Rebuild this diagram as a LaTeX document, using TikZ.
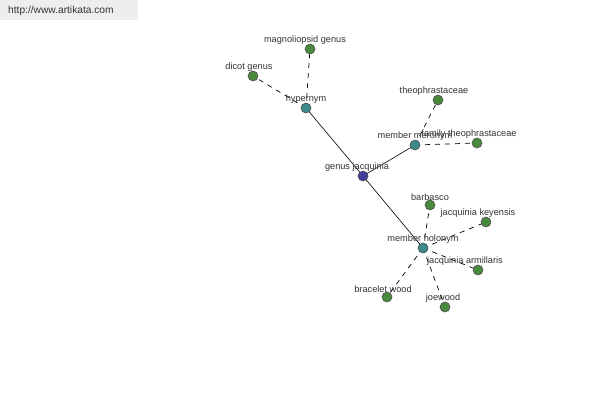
\documentclass[tikz,border=0pt]{standalone}
\usepackage{fontspec}
\setmainfont{Liberation Sans}
\usetikzlibrary{backgrounds}
\definecolor{hub}{HTML}{3F3F9A}
\definecolor{rel}{HTML}{3C8A8A}
\definecolor{leaf}{HTML}{4A8A3C}
\definecolor{txt}{HTML}{333333}
\definecolor{band}{HTML}{EEEEEE}

\tikzset{
  every label/.style={font=\fontsize{9.2}{10}\selectfont,text=txt,inner sep=1pt,yshift=-2pt},
  wn/.style={circle,draw=black!70,line width=0.6pt,inner sep=0pt,minimum size=10pt},
  hubnode/.style={wn,fill=hub},
  relnode/.style={wn,fill=rel},
  leafnode/.style={wn,fill=leaf},
  dashlink/.style={draw=black,line width=0.7pt,dash pattern=on 5pt off 5pt}
}

\begin{document}
\begin{tikzpicture}[x=1pt,y=-1pt]
  \useasboundingbox (0,0) rectangle (600,400);
  \node[fill=band,minimum width=138pt,minimum height=20pt,anchor=north west,inner sep=0pt] (site) at (0,0) {};
  \node[anchor=west,font=\fontsize{10.2}{11}\selectfont,text=txt,inner sep=0pt] (url) at (8,10.5) {http://www.artikata.com};
  % centre and relations
  \node[hubnode,label={[xshift=-6pt]above:genus jacquinia}] (gj) at (363,176) {};
  \node[relnode,label={above:hypernym}] (hyp) at (306,108) {};
  \node[relnode,label={above:member meronym}] (mer) at (415,145) {};
  \node[relnode,label={above:member holonym}] (hol) at (423,248) {};
  % leaves
  \node[leafnode,label={[xshift=-5pt]above:magnoliopsid genus}] (mag) at (310,49) {};
  \node[leafnode,label={[xshift=-4pt]above:dicot genus}] (dic) at (253,76) {};
  \node[leafnode,label={[xshift=-4pt]above:theophrastaceae}] (the) at (438,100) {};
  \node[leafnode,label={[xshift=-8pt]above:family theophrastaceae}] (fam) at (477,143) {};
  \node[leafnode,label={above:barbasco}] (bar) at (430,205) {};
  \node[leafnode,label={[xshift=-8pt]above:jacquinia keyensis}] (key) at (486,222) {};
  \node[leafnode,label={[xshift=-13pt]above:jacquinia armillaris}] (arm) at (478,270) {};
  \node[leafnode,label={[xshift=-4pt]above:bracelet wood}] (bra) at (387,297) {};
  \node[leafnode,label={[xshift=-2pt]above:joewood}] (joe) at (445,307) {};
  \begin{scope}[on background layer]
    \draw[black,line width=0.6pt] (gj.center) -- (hyp.center) (gj.center) -- (mer.center) (gj.center) -- (hol.center);
    \foreach \a/\b in {hyp/mag,hyp/dic,mer/the,mer/fam,hol/bar,hol/key,hol/arm,hol/bra,hol/joe}
      \draw[dashlink] (\a.center) -- (\b.center);
  \end{scope}
\end{tikzpicture}
\end{document}
